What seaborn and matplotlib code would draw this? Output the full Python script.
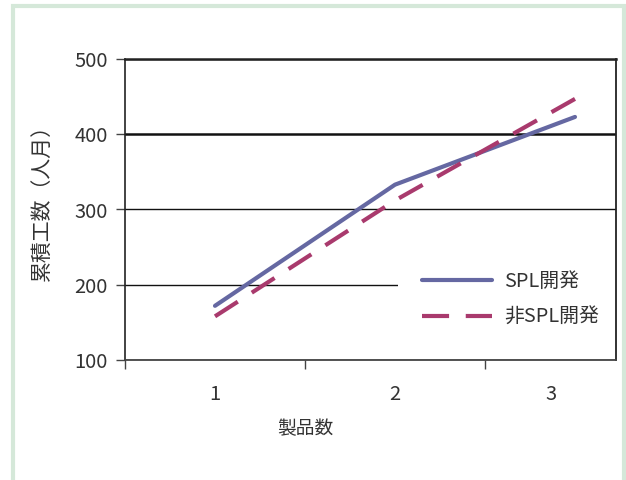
import matplotlib
matplotlib.use("Agg")
import matplotlib.pyplot as plt
import matplotlib.patches as mpatches
import seaborn as sns
import pandas as pd

# Data
products = [1, 2, 3]
spl = [172, 333, 423]
non_spl = [158, 312, 447]
series_names = ["SPL開発", "非SPL開発"]
x_label = "製品数"
y_label = "累積工数（人月）"
y_ticks = [100, 200, 300, 400, 500]

df = pd.DataFrame({
    "製品数": products * 2,
    "工数": spl + non_spl,
    "系列": [series_names[0]] * 3 + [series_names[1]] * 3,
})

sns.set_theme(style="white")
plt.rcParams["font.family"] = ["Noto Sans CJK JP", "DejaVu Sans"]

W, H = 626, 480
fig = plt.figure(figsize=(W / 100, H / 100), dpi=100)
ax = fig.add_axes([125 / W, 1 - 360 / H, (616 - 125) / W, (360 - 59) / H])

palette = {series_names[0]: "#6568a2", series_names[1]: "#a93a6d"}
dashes = {series_names[0]: "", series_names[1]: (6.5, 4)}
sns.lineplot(data=df, x="製品数", y="工数", hue="系列", style="系列",
             palette=palette, dashes=dashes, linewidth=3.0, ax=ax,
             legend=True, zorder=3)

xmin, xmax = 0.5, 0.5 + (616 - 125) / 180
ax.set_xlim(xmin, xmax)
ax.set_ylim(100, 500)
ax.set_yticks(y_ticks)

# x labels at category centres; last category is clipped, label centred on visible part
label_pos = [1, 2, (2.5 + xmax) / 2]
ax.set_xticks(label_pos)
ax.set_xticklabels([str(p) for p in products])
ax.set_xticks([0.5, 1.5, 2.5], minor=True)
ax.tick_params(axis="x", which="major", length=0, pad=17, labelsize=14.5, colors="#333333")
ax.tick_params(axis="x", which="minor", length=6.5, width=1.0, direction="out",
               color="#444444", bottom=True)
ax.tick_params(axis="y", length=6.5, width=1.0, direction="out", pad=6,
               labelsize=14.5, colors="#333333", left=True)
ax.tick_params(axis="y", color="#444444")

ax.grid(axis="y", color="#111111", linewidth=1.0, zorder=1)
ax.grid(axis="x", visible=False)
ax.set_axisbelow(True)
for val, gl in zip(y_ticks, ax.yaxis.get_gridlines()):
    if val == 400:
        gl.set_linewidth(1.8)

for side in ["left", "right", "top", "bottom"]:
    ax.spines[side].set_visible(True)
    ax.spines[side].set_color("#222222")
ax.spines["top"].set_linewidth(1.8)
ax.spines["right"].set_linewidth(1.3)
ax.spines["bottom"].set_linewidth(1.3)
ax.spines["bottom"].set_color("#444444")
ax.spines["left"].set_linewidth(1.2)

ax.set_xlabel(x_label, fontsize=13.5, color="#333333")
ax.set_ylabel(y_label, fontsize=15, color="#333333")
ax.xaxis.set_label_coords((305 - 125) / 491, (360 - 418) / 301)
ax.yaxis.set_label_coords((53 - 125) / 491, 0.54)

handles, labels = ax.get_legend_handles_labels()
leg = ax.legend(handles, labels, loc="center left", bbox_to_anchor=((398 - 125) / 491, 0.2),
                borderaxespad=0, borderpad=1.2, frameon=True, fancybox=False,
                facecolor="white", edgecolor="none", framealpha=1,
                fontsize=14.3, handlelength=3.55, handletextpad=0.6, labelspacing=0.75)
for t in leg.get_texts():
    t.set_color("#333333")
for h in leg.get_lines():
    h.set_linewidth(3.0)
leg.set_zorder(2)

# pale green frame around the figure
frame = mpatches.Rectangle((13 / W, -0.05), (624 - 13) / W, 1 - 6 / H + 0.05,
                           transform=fig.transFigure, fill=False,
                           edgecolor="#d5e8d9", linewidth=3.0)
fig.patches.append(frame)

fig.savefig("out.png", dpi=100)
